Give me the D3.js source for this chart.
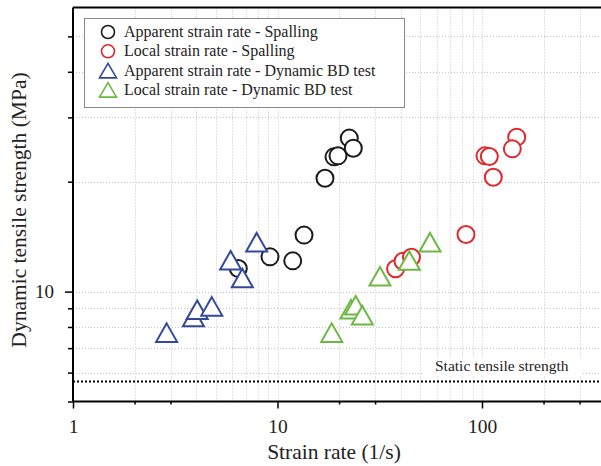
<!DOCTYPE html>
<html>
<head>
<meta charset="utf-8">
<script src="https://cdn.jsdelivr.net/npm/d3@7"></script>
<style>
  body { margin: 0; background: #fff; }
  svg { display: block; font-family: 'Liberation Serif', 'DejaVu Serif', serif; }
</style>
</head>
<body>
<div id="chart"></div>
<script>
// strain rate (1/s), dynamic tensile strength (MPa)
const apparentSpalling = [
  [6.43, 11.57], [9.19, 12.45], [11.87, 12.14], [13.48, 14.28], [17.07, 20.43],
  [18.89, 23.39], [19.76, 23.54], [22.44, 26.33], [23.48, 24.71]
];
const localSpalling = [
  [37.8, 11.55], [41.1, 12.11], [45.2, 12.42], [83.5, 14.34], [103.4, 23.54],
  [108.6, 23.44], [113.6, 20.57], [147.8, 26.49], [140.7, 24.6]
];
const apparentBD = [
  [2.87, 7.72], [3.88, 8.52], [4.05, 8.92], [4.77, 9.11], [5.90, 12.19],
  [6.73, 10.90], [7.91, 13.66]
];
const localBD = [
  [18.41, 7.72], [22.87, 8.94], [24.12, 9.17], [25.98, 8.61], [31.7, 11.02],
  [44.1, 12.16], [55.7, 13.66]
];
const staticStrength = 5.67;

const xMajor = [1, 10, 100];
const xMinor = [2, 3, 20, 30, 200, 300];
const xGrid = [2, 3, 4, 5, 6, 7, 8, 9, 10, 20, 30, 40, 50, 60, 70, 80, 90, 100, 200, 300];
const yMajor = [10];
const yMinor = [5, 6, 7, 8, 9, 20, 30, 40, 50];
const yGrid = [6, 7, 8, 9, 10, 20, 30, 40, 50];

const legendItems = [
  { label: 'Apparent strain rate - Spalling', shape: 'circle', color: '#1a1a1a' },
  { label: 'Local strain rate - Spalling', shape: 'circle', color: '#e0282c' },
  { label: 'Apparent strain rate - Dynamic BD test', shape: 'triangle', color: '#34489a' },
  { label: 'Local strain rate - Dynamic BD test', shape: 'triangle', color: '#6cb843' }
];

const width = 601, height = 466;
const plotLeft = 73, plotTop = 7.5, plotBottom = 401.5, plotRight = width;

const svg = d3.select('#chart').append('svg')
  .attr('width', width)
  .attr('height', height);

const x = d3.scaleLog().domain([1, 400]).range([plotLeft, plotLeft + 204.5 * Math.log10(400)]);
const y = d3.scaleLog().domain([5, 60]).range([plotBottom, plotTop]);

// grid
const grid = svg.append('g')
  .attr('stroke', '#c4c4c4')
  .attr('stroke-width', 1)
  .attr('stroke-dasharray', '1,2');

grid.selectAll('.vg').data(xGrid).join('line')
  .attr('x1', d => Math.round(x(d)) + 0.5).attr('x2', d => Math.round(x(d)) + 0.5)
  .attr('y1', plotTop).attr('y2', plotBottom);

grid.selectAll('.hg').data(yGrid).join('line')
  .attr('y1', d => Math.round(y(d)) + 0.5).attr('y2', d => Math.round(y(d)) + 0.5)
  .attr('x1', plotLeft).attr('x2', plotRight);

// static tensile strength
svg.append('rect')
  .attr('x', 423).attr('y', y(staticStrength) - 23)
  .attr('width', 160).attr('height', 17)
  .attr('fill', '#fff');

svg.append('text')
  .attr('x', 435).attr('y', y(staticStrength) - 11)
  .attr('font-size', '15.5px')
  .attr('fill', '#222')
  .text('Static tensile strength');

svg.append('line')
  .attr('x1', plotLeft).attr('x2', plotRight)
  .attr('y1', y(staticStrength)).attr('y2', y(staticStrength))
  .attr('stroke', '#000')
  .attr('stroke-width', 2)
  .attr('stroke-dasharray', '2,2');

// frame / axes
svg.append('line')
  .attr('x1', plotLeft).attr('x2', plotRight).attr('y1', plotTop).attr('y2', plotTop)
  .attr('stroke', '#000').attr('stroke-width', 2);

const xAxisMajor = d3.axisBottom(x).tickValues(xMajor).tickSize(7).tickFormat(d3.format('d'));
const xAxisMinor = d3.axisBottom(x).tickValues(xMinor).tickSize(3).tickFormat('');

const gx = svg.append('g').attr('transform', `translate(0,${plotBottom})`).call(xAxisMajor);
svg.append('g').attr('transform', `translate(0,${plotBottom})`).call(xAxisMinor)
  .call(g => g.select('.domain').remove());
gx.select('.domain').attr('d', `M${plotLeft},0H${plotRight}`).attr('stroke-width', 2);

const yAxisMajor = d3.axisLeft(y).tickValues(yMajor).tickSize(8).tickFormat(d3.format('d'));
const yAxisMinor = d3.axisLeft(y).tickValues(yMinor).tickSize(5).tickFormat('');

const gy = svg.append('g').attr('transform', `translate(${plotLeft},0)`).call(yAxisMajor);
svg.append('g').attr('transform', `translate(${plotLeft},0)`).call(yAxisMinor)
  .call(g => g.select('.domain').remove());
gy.select('.domain').attr('d', `M0,${plotTop}V${plotBottom}`).attr('stroke-width', 2);

svg.selectAll('.tick line').attr('stroke-width', 1.5);
gx.selectAll('.tick text')
  .attr('font-family', 'Liberation Serif')
  .attr('font-size', '19.5px')
  .attr('fill', '#222')
  .attr('dy', '0')
  .attr('y', 31);
gy.selectAll('.tick text')
  .attr('font-family', 'Liberation Serif')
  .attr('font-size', '19px')
  .attr('fill', '#222')
  .attr('x', -19);

// titles
svg.append('text')
  .attr('x', 334).attr('y', 459)
  .attr('text-anchor', 'middle')
  .attr('font-size', '21.5px')
  .attr('fill', '#222')
  .text('Strain rate (1/s)');

svg.append('text')
  .attr('transform', 'translate(25.5,210) rotate(-90)')
  .attr('text-anchor', 'middle')
  .attr('font-size', '21.5px')
  .attr('fill', '#222')
  .text('Dynamic tensile strength (MPa)');

// markers
const triPath = (w, h) => `M0,${-h / 2}L${w / 2},${h / 2}L${-w / 2},${h / 2}Z`;

function drawCircles(data, color) {
  svg.append('g').selectAll('circle').data(data).join('circle')
    .attr('cx', d => x(d[0])).attr('cy', d => y(d[1]))
    .attr('r', 8.5)
    .attr('fill', '#fff')
    .attr('stroke', color)
    .attr('stroke-width', 2);
}

function drawTriangles(data, color) {
  svg.append('g').selectAll('path').data(data).join('path')
    .attr('transform', d => `translate(${x(d[0])},${y(d[1])})`)
    .attr('d', triPath(21, 18.5))
    .attr('fill', '#fff')
    .attr('stroke', color)
    .attr('stroke-width', 2)
    .attr('stroke-linejoin', 'miter');
}

drawCircles(apparentSpalling, legendItems[0].color);
drawCircles(localSpalling, legendItems[1].color);
drawTriangles(apparentBD, legendItems[2].color);
drawTriangles(localBD, legendItems[3].color);

// legend
const legend = svg.append('g');
legend.append('rect')
  .attr('x', 84.5).attr('y', 18.5)
  .attr('width', 320).attr('height', 89)
  .attr('fill', '#fff')
  .attr('stroke', '#888')
  .attr('stroke-width', 1);

legendItems.forEach((item, i) => {
  const cy = 32 + i * 19.3;
  const g = legend.append('g').attr('transform', `translate(108,${cy})`);
  if (item.shape === 'circle') {
    g.append('circle').attr('r', 6.5)
      .attr('fill', 'none').attr('stroke', item.color).attr('stroke-width', 1.6);
  } else {
    g.append('path').attr('d', triPath(17, 14.5))
      .attr('fill', 'none').attr('stroke', item.color).attr('stroke-width', 1.6);
  }
  legend.append('text')
    .attr('x', 124).attr('y', cy + 5)
    .attr('font-size', '16px')
    .attr('fill', '#222')
    .text(item.label);
});
</script>
</body>
</html>
